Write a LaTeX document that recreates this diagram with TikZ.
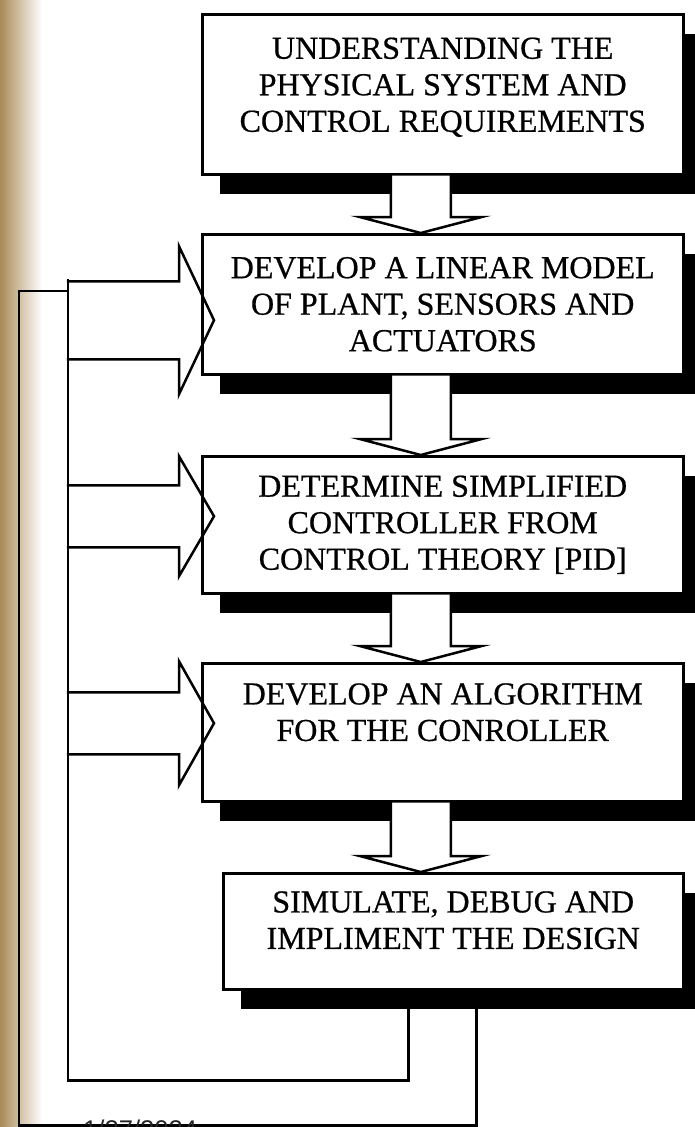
\documentclass[tikz,border=0pt]{standalone}
\usepackage{fontspec}
\setmainfont{Liberation Serif}[FakeBold=0.6]
\newfontfamily\datefont{Liberation Sans}
\usetikzlibrary{calc,shadows}
\definecolor{tanedge}{RGB}{170,138,86}

\tikzset{
  stepbox/.style={draw, line width=2.5pt, fill=white, inner sep=0pt,
    anchor=north west, minimum width=481pt,
    drop shadow={shadow xshift=18pt, shadow yshift=-20pt, opacity=1, fill=black}},
  steptext/.style={align=center, inner sep=0pt, font=\fontsize{32}{36.5}\selectfont},
  flowline/.style={line width=2.5pt, line cap=rect},
}

% hollow arrow from one step down to the next
\newcommand{\flowdown}[2]{%
  \coordinate (#1-out) at ($(#1.south)+(-22,0)$);
  \coordinate (#2-in) at (#1-out |- #2.north);
  \filldraw[flowline, fill=white] ($(#1-out)+(-30,0)$) -- ($(#2-in)+(-30,-16)$)
    -- ($(#2-in)+(-61,-16)$) -- (#2-in) -- ($(#2-in)+(61,-16)$)
    -- ($(#2-in)+(30,-16)$) -- ($(#1-out)+(30,0)$);
}
% hollow arrow from the feedback line into a step
\newcommand{\flowin}[4]{%
  \coordinate (#1-tip) at ($(#1.west)+(13,#2)$);
  \draw[flowline] ($(bus |- #1-tip)+(0,-#3)$) -- ($(#1-tip)+(-35,-#3)$)
    -- ($(#1-tip)+(-35,-#4)$) -- (#1-tip) -- ($(#1-tip)+(-35,#4)$)
    -- ($(#1-tip)+(-35,#3)$) -- ($(bus |- #1-tip)+(0,#3)$);
}

\begin{document}
\begin{tikzpicture}[x=1pt, y=-1pt]
    \useasboundingbox (0,0) rectangle (695,1127);

    % page edge of the scan
    \shade[left color=tanedge, right color=white] (0,0) rectangle (42,1127);

    % Steps
    \node[stepbox, minimum height=160pt] (understand) at (201,13) {};
    \node[stepbox, minimum height=140pt] (develop) at (201,233) {};
    \node[stepbox, minimum height=137pt] (determine) at (201,455) {};
    \node[stepbox, minimum height=138pt] (algorithm) at (201,662) {};
    \node[stepbox, minimum height=116pt, minimum width=460pt] (simulate) at (222,872) {};

    % Step texts
    \node[steptext] (understandtext) at ([yshift=7pt]understand.center)
        {UNDERSTANDING THE\\PHYSICAL SYSTEM AND\\CONTROL REQUIREMENTS};
    \node[steptext] (developtext) at (develop.center)
        {DEVELOP A LINEAR MODEL\\OF PLANT, SENSORS AND\\ACTUATORS};
    \node[steptext] (determinetext) at (determine.center)
        {DETERMINE SIMPLIFIED\\CONTROLLER FROM\\CONTROL THEORY [PID]};
    \node[steptext] (algorithmtext) at ([yshift=20pt]algorithm.center)
        {DEVELOP AN ALGORITHM\\FOR THE CONROLLER};
    \node[steptext] (simulatetext) at ([yshift=11pt]simulate.center)
        {SIMULATE, DEBUG AND\\IMPLIMENT THE DESIGN};

    % Arrows between steps
    \flowdown{understand}{develop}
    \flowdown{develop}{determine}
    \flowdown{determine}{algorithm}
    \flowdown{algorithm}{simulate}

    % Feedback arrows
    \coordinate (bus) at (68,280);
    \flowin{develop}{16}{39}{74}
    \flowin{determine}{-8.5}{31}{60}
    \flowin{algorithm}{-9}{31}{62}

    % Feedback lines
    \coordinate (simout) at ($(simulate.south)+(-45,19)$);
    \coordinate (simback) at ($(simulate.south)+(23,19)$);
    \coordinate (loopinner) at ($(simout)+(0,71)$);
    \coordinate (loopouter) at ($(simback)+(0,116)$);
    \coordinate (busouter) at (19,291);
    \draw[flowline] (bus) |- (loopinner) -- (simout);
    \draw[flowline] (simback) -- (loopouter) -| (busouter) -- (busouter -| bus);

    % footer date
    \node[font=\datefont\fontsize{25.6}{30}\selectfont, text=black!85,
        anchor=base west, inner sep=0pt] (date) at (83,1138) {1/27/2024};
\end{tikzpicture}
\end{document}
